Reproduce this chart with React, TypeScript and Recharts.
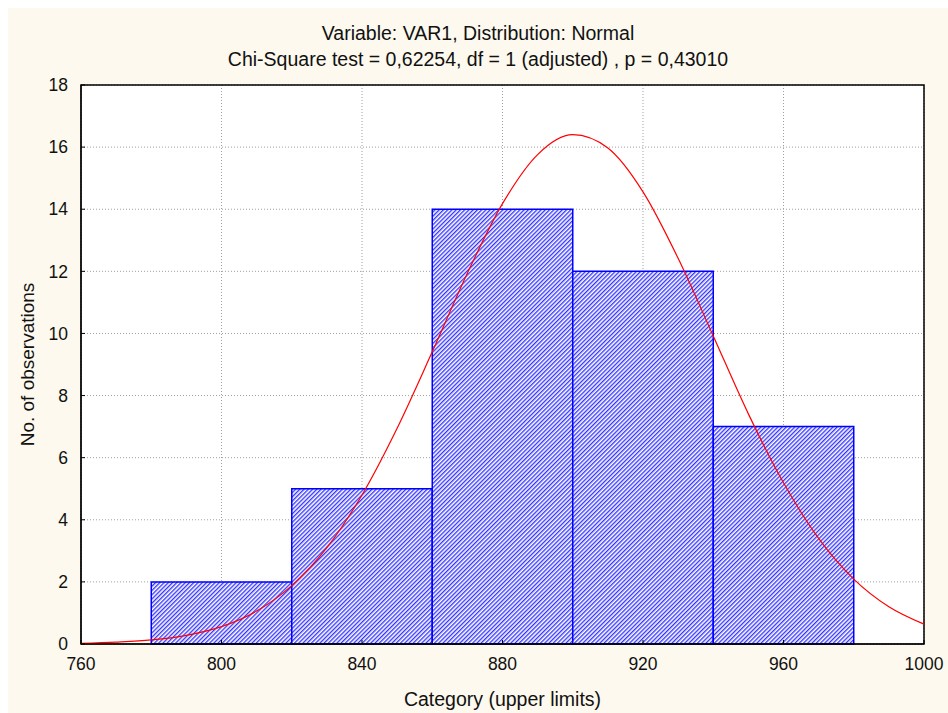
import React from 'react';
import { ComposedChart, Line, XAxis, YAxis, CartesianGrid, ReferenceArea } from 'recharts';

// histogram bins (upper limits on the x axis)
const binLower = [780, 820, 860, 900, 940];
const binUpper = [820, 860, 900, 940, 980];
const binCounts = [2, 5, 14, 12, 7];

// fitted normal curve
const curveX = [760, 770, 780, 790, 800, 810, 820, 830, 840, 850, 860, 870, 880, 890, 900, 910, 920, 930, 940, 950, 960, 970, 980, 990, 1000];
const curveY = [0.02, 0.06, 0.13, 0.28, 0.56, 1.06, 1.88, 3.1, 4.8, 6.95, 9.41, 11.94, 14.18, 15.76, 16.4, 15.97, 14.56, 12.42, 9.92, 7.41, 5.19, 3.4, 2.09, 1.2, 0.64];

const xTicks = [760, 800, 840, 880, 920, 960, 1000];
const yTicks = [0, 2, 4, 6, 8, 10, 12, 14, 16, 18];

const titleLines = ['Variable: VAR1, Distribution: Normal', 'Chi-Square test = 0,62254, df = 1 (adjusted) , p = 0,43010'];

const FONT = '"Liberation Sans", Arial, sans-serif';

// the cream panel runs to the window edge, so drop the default body margin
// and draw the white 8px strip ourselves
document.body.style.margin = '0';

const App: React.FC = () => {
  const curveData = curveX.map((x, i) => ({ x, y: curveY[i] }));
  const bins = binLower.map((lo, i) => ({ lo, hi: binUpper[i], n: binCounts[i] }));

  return (
    <div style={{ width: 948, height: 713, background: '#fff', paddingLeft: 8, paddingTop: 8, boxSizing: 'border-box', overflow: 'hidden' }}>
      <div style={{ position: 'relative', width: 940, height: 705, background: '#fdf9ee', fontFamily: FONT }}>
        {titleLines.map((t, i) => (
          <div
            key={i}
            style={{ position: 'absolute', left: 0, width: 940, top: 14 + i * 26, textAlign: 'center', fontSize: 19.5, color: '#111', lineHeight: '22px' }}
          >
            {t}
          </div>
        ))}

        <ComposedChart width={940} height={705} data={curveData} margin={{ top: 77, right: 24, bottom: 39, left: 8 }}>
          <defs>
            <pattern id="blueHatch" patternUnits="userSpaceOnUse" width={3} height={3} patternTransform="rotate(45)">
              <rect x={0} y={0} width={3} height={3} fill="#ffffff" />
              <line x1={0.7} y1={0} x2={0.7} y2={3} style={{ stroke: '#2a2aff', strokeWidth: 1.3 }} />
            </pattern>
          </defs>
          <CartesianGrid stroke="#a0a0a0" strokeDasharray="1 2" fill="#ffffff" fillOpacity={1} />
          <XAxis
            dataKey="x"
            type="number"
            domain={[760, 1000]}
            ticks={xTicks}
            height={30}
            tickSize={-4}
            tickMargin={18}
            stroke="#000"
            tick={{ fill: '#111', fontSize: 17.5, fontFamily: FONT }}
            label={{ value: 'Category (upper limits)', position: 'bottom', offset: 18, fill: '#111', fontSize: 19.5, fontFamily: FONT }}
          />
          <YAxis
            type="number"
            domain={[0, 18]}
            ticks={yTicks}
            width={65}
            tickSize={-4}
            tickMargin={17}
            stroke="#000"
            tick={{ fill: '#111', fontSize: 17.5, fontFamily: FONT }}
            label={{ value: 'No. of observations', angle: -90, position: 'insideLeft', offset: 11, fill: '#111', fontSize: 19, fontFamily: FONT, style: { textAnchor: 'middle' } }}
          />
          {bins.map((b, i) => (
            <ReferenceArea
              key={i}
              x1={b.lo}
              x2={b.hi}
              y1={0}
              y2={b.n}
              fill="url(#blueHatch)"
              fillOpacity={1}
              stroke="#0000ff"
              strokeWidth={1.5}
            />
          ))}
          <Line dataKey="y" type="monotone" stroke="#ff0000" strokeWidth={1.2} dot={false} isAnimationActive={false} />
          <ReferenceArea x1={760} x2={1000} y1={0} y2={18} fill="none" stroke="#000" strokeWidth={1.5} />
        </ComposedChart>
      </div>
    </div>
  );
};

export default App;
